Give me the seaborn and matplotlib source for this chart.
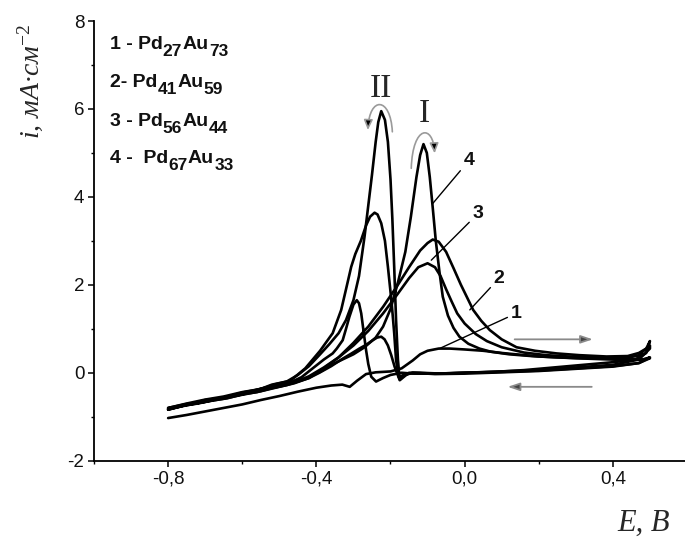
import numpy as np
import pandas as pd
import matplotlib
matplotlib.use("Agg")
import matplotlib.pyplot as plt
from matplotlib.patches import FancyArrowPatch
from matplotlib.path import Path
import seaborn as sns

# ---- cyclic voltammograms of Pd-Au alloys: potential E (V), current density i (mA/cm2) ----
# curve 1 : Pd27Au73
E1_fwd = [-0.80, -0.75, -0.70, -0.65, -0.60, -0.55, -0.50, -0.45, -0.40, -0.36, -0.33, -0.31,
          -0.29, -0.266, -0.24, -0.20, -0.17, -0.14, -0.12, -0.10, -0.07, -0.04, 0.0, 0.05,
          0.10, 0.20, 0.30, 0.43, 0.48, 0.50]
i1_fwd = [-1.03, -0.96, -0.88, -0.80, -0.72, -0.62, -0.53, -0.43, -0.34, -0.29, -0.27, -0.32,
          -0.18, -0.03, 0.01, 0.03, 0.10, 0.28, 0.42, 0.50, 0.55, 0.55, 0.53, 0.50,
          0.45, 0.37, 0.33, 0.29, 0.30, 0.33]
E1_rev = [0.50, 0.47, 0.40, 0.30, 0.20, 0.10, 0.0, -0.08, -0.14, -0.16, -0.176, -0.189,
          -0.198, -0.207, -0.216, -0.225, -0.236, -0.248, -0.265, -0.284, -0.305, -0.329,
          -0.36, -0.392, -0.42, -0.45, -0.50, -0.55, -0.60, -0.65, -0.70, -0.75, -0.80]
i1_rev = [0.33, 0.22, 0.14, 0.09, 0.04, 0.01, -0.02, -0.03, 0.0, -0.05, -0.15, 0.14,
          0.40, 0.62, 0.76, 0.82, 0.80, 0.74, 0.64, 0.55, 0.44, 0.32,
          0.15, 0.0, -0.12, -0.20, -0.27, -0.37, -0.44, -0.54, -0.61, -0.70, -0.80]

# curve 2 : Pd41Au59
E2_fwd = [-0.80, -0.75, -0.70, -0.65, -0.60, -0.55, -0.50, -0.46, -0.42, -0.38, -0.34, -0.30,
          -0.26, -0.22, -0.18, -0.15, -0.12, -0.10, -0.086, -0.07, -0.05, -0.03, -0.01,
          0.023, 0.045, 0.068, 0.10, 0.14, 0.19, 0.248, 0.31, 0.383, 0.44, 0.47, 0.49, 0.50]
i2_fwd = [-0.83, -0.74, -0.66, -0.59, -0.50, -0.42, -0.32, -0.24, -0.12, 0.10, 0.35, 0.68,
          1.05, 1.50, 2.00, 2.40, 2.78, 2.95, 3.03, 2.98, 2.75, 2.38, 2.00,
          1.43, 1.18, 0.97, 0.76, 0.58, 0.50, 0.44, 0.40, 0.37, 0.38, 0.45, 0.55, 0.62]
E2_rev = [0.50, 0.47, 0.40, 0.30, 0.20, 0.10, 0.0, -0.08, -0.14, -0.17, -0.20, -0.22, -0.239,
          -0.252, -0.26, -0.266, -0.272, -0.279, -0.285, -0.291, -0.30, -0.311, -0.32, -0.329,
          -0.345, -0.356, -0.38, -0.41, -0.44, -0.47, -0.51, -0.55, -0.60, -0.65, -0.70,
          -0.75, -0.80]
i2_rev = [0.55, 0.30, 0.18, 0.12, 0.06, 0.03, 0.0, -0.02, -0.02, 0.0, -0.05, -0.12, -0.20,
          -0.09, 0.20, 0.52, 0.90, 1.35, 1.58, 1.65, 1.55, 1.27, 1.00, 0.74,
          0.55, 0.44, 0.30, 0.10, -0.10, -0.22, -0.30, -0.36, -0.49, -0.56, -0.66,
          -0.73, -0.84]

# curve 3 : Pd56Au44
E3_fwd = [-0.80, -0.75, -0.70, -0.65, -0.60, -0.55, -0.50, -0.46, -0.42, -0.38, -0.34, -0.30,
          -0.26, -0.22, -0.18, -0.15, -0.125, -0.10, -0.08, -0.065, -0.05, -0.035, -0.02,
          0.0, 0.03, 0.06, 0.10, 0.16, 0.22, 0.30, 0.38, 0.45, 0.48, 0.50]
i3_fwd = [-0.80, -0.71, -0.66, -0.56, -0.49, -0.39, -0.31, -0.22, -0.08, 0.12, 0.35, 0.62,
          0.95, 1.35, 1.80, 2.15, 2.40, 2.49, 2.40, 2.20, 1.90, 1.62, 1.35,
          1.12, 0.88, 0.72, 0.58, 0.46, 0.40, 0.36, 0.34, 0.32, 0.30, 0.35]
E3_rev = [0.50, 0.47, 0.40, 0.30, 0.20, 0.10, 0.0, -0.08, -0.14, -0.165, -0.178, -0.185,
          -0.19, -0.197, -0.207, -0.215, -0.225, -0.235, -0.243, -0.255, -0.266, -0.28,
          -0.295, -0.306, -0.32, -0.333, -0.356, -0.39, -0.43, -0.47, -0.51, -0.55, -0.60,
          -0.65, -0.70, -0.75, -0.80]
i3_rev = [0.35, 0.22, 0.15, 0.10, 0.05, 0.02, 0.0, -0.02, 0.0, -0.05, -0.10, 0.29,
          0.90, 1.60, 2.41, 3.00, 3.40, 3.60, 3.64, 3.55, 3.35, 3.00,
          2.70, 2.41, 1.90, 1.43, 0.90, 0.50, 0.10, -0.18, -0.26, -0.37, -0.45,
          -0.57, -0.62, -0.73, -0.81]

# curve 4 : Pd67Au33
E4_fwd = [-0.80, -0.76, -0.72, -0.68, -0.64, -0.60, -0.56, -0.52, -0.48, -0.45, -0.42, -0.39,
          -0.36, -0.33, -0.30, -0.27, -0.24, -0.22, -0.20, -0.18, -0.16, -0.145, -0.13,
          -0.12, -0.111, -0.102, -0.094, -0.086, -0.078, -0.068, -0.059, -0.045, -0.03,
          -0.014, 0.01, 0.04, 0.07, 0.12, 0.18, 0.25, 0.32, 0.39, 0.44, 0.47, 0.49, 0.50]
i4_fwd = [-0.84, -0.75, -0.70, -0.63, -0.58, -0.49, -0.44, -0.35, -0.28, -0.20, -0.10, 0.02,
          0.18, 0.30, 0.42, 0.58, 0.80, 1.05, 1.45, 2.05, 2.75, 3.55, 4.45,
          4.95, 5.20, 5.00, 4.45, 3.75, 3.02, 2.30, 1.73, 1.30, 1.02,
          0.82, 0.66, 0.55, 0.48, 0.42, 0.38, 0.35, 0.33, 0.33, 0.34, 0.40, 0.55, 0.72]
E4_rev = [0.50, 0.49, 0.46, 0.40, 0.32, 0.24, 0.16, 0.08, 0.0, -0.06, -0.12, -0.15, -0.165,
          -0.175, -0.180, -0.185, -0.190, -0.195, -0.200, -0.207, -0.215, -0.225, -0.233,
          -0.240, -0.250, -0.260, -0.270, -0.285, -0.30, -0.32, -0.34, -0.365, -0.39, -0.42,
          -0.45, -0.48, -0.52, -0.56, -0.60, -0.64, -0.68, -0.72, -0.76, -0.80]
i4_rev = [0.72, 0.45, 0.30, 0.24, 0.18, 0.12, 0.06, 0.02, 0.00, -0.02, 0.0, 0.0, -0.10,
          -0.17, 0.30, 1.20, 2.40, 3.50, 4.40, 5.25, 5.75, 5.95, 5.70,
          5.25, 4.50, 3.80, 3.10, 2.20, 1.65, 1.20, 0.90, 0.65, 0.42, 0.15,
          -0.05, -0.20, -0.27, -0.40, -0.47, -0.56, -0.61, -0.69, -0.74, -0.83]

curve_names = ["1", "2", "3", "4"]
key_prefix = ["1 - ", "2- ", "3 - ", "4 -  "]
pd_index = ["27", "41", "56", "67"]
au_index = ["73", "59", "44", "33"]
x_ticks = [-0.8, -0.4, 0.0, 0.4]
x_tick_labels = ["-0,8", "-0,4", "0,0", "0,4"]
y_ticks = [-2, 0, 2, 4, 6, 8]
y_tick_labels = ["-2", "0", "2", "4", "6", "8"]

# ---- long table: each curve is one closed loop (forward then reverse sweep) ----
sweeps = [(E1_fwd + E1_rev, i1_fwd + i1_rev),
          (E2_fwd + E2_rev, i2_fwd + i2_rev),
          (E3_fwd + E3_rev, i3_fwd + i3_rev),
          (E4_fwd + E4_rev, i4_fwd + i4_rev)]
frames = []
for name, (E, cur) in zip(curve_names, sweeps):
    frames.append(pd.DataFrame({"E": E, "i": cur, "curve": name, "step": np.arange(len(E))}))
cv = pd.concat(frames, ignore_index=True)

sns.set_style("ticks")
plt.rcParams["font.family"] = ["Liberation Sans", "DejaVu Sans"]
plt.rcParams["mathtext.fontset"] = "custom"
plt.rcParams["mathtext.rm"] = "Liberation Serif"
plt.rcParams["mathtext.it"] = "Liberation Serif:italic"

fig = plt.figure(figsize=(6.85, 5.39), dpi=100)
ax = fig.add_axes([94 / 685, 1 - 460.7 / 539, (687 - 94) / 685, (460.7 - 21) / 539])

sns.lineplot(data=cv, x="E", y="i", units="curve", estimator=None, sort=False,
             color="black", lw=1.9, legend=False, ax=ax)

ax.set_xlim(-1.0, 0.6)
ax.set_ylim(-2, 8)
ax.set_xticks(x_ticks)
ax.set_xticklabels(x_tick_labels)
ax.set_yticks(y_ticks)
ax.set_yticklabels(y_tick_labels)
ax.set_xticks([-1.0, -0.6, -0.2, 0.2, 0.6], minor=True)
ax.set_yticks([-1, 1, 3, 5, 7], minor=True)
ax.tick_params(which="major", direction="out", length=4, width=1.1, labelsize=13.5,
               pad=3, color="black", labelcolor="#111")
ax.tick_params(which="minor", direction="out", length=2.4, width=1.0, color="black")
ax.set_xlabel("")
ax.set_ylabel("")
sns.despine(ax=ax)
for side in ("left", "bottom"):
    ax.spines[side].set_linewidth(1.3)
    ax.spines[side].set_color("black")

# composition key: main text and lowered indices chained one after another
main_kw = dict(fontsize=14, fontweight="bold", color="#111", va="baseline", ha="left")
sub_kw = dict(fontsize=12.5, fontweight="bold", color="#111", va="baseline", ha="left")
for pre, a, b, y in zip(key_prefix, pd_index, au_index, [7.36, 6.50, 5.62, 4.76]):
    t0 = ax.text(-0.958, y, pre + "Pd", **main_kw)
    t1 = ax.annotate(a, xy=(1, y), xycoords=(t0, "data"), xytext=(0.3, -5),
                     textcoords="offset points", **sub_kw)
    t2 = ax.annotate("Au", xy=(1, y), xycoords=(t1, "data"), xytext=(0.3, 0),
                     textcoords="offset points", **main_kw)
    ax.annotate(b, xy=(1, y), xycoords=(t2, "data"), xytext=(0.3, -5),
                textcoords="offset points", **sub_kw)

# curve labels with leader lines
leaders = [("4", (-0.086, 3.85), (0.012, 4.83)),
           ("3", (-0.090, 2.56), (0.036, 3.62)),
           ("2", (0.014, 1.43), (0.093, 2.15)),
           ("1", (-0.068, 0.55), (0.139, 1.35))]
for lab, xy, xytext in leaders:
    ax.annotate(lab, xy=xy, xytext=xytext, fontsize=14, fontweight="bold",
                ha="center", va="center", color="#111",
                arrowprops=dict(arrowstyle="-", lw=1.0, color="black",
                                shrinkA=0, shrinkB=0))

# peak names
ax.text(-0.226, 6.47, "II", fontsize=24, family="Liberation Serif", ha="center",
        va="center")
ax.text(-0.108, 5.90, "I", fontsize=24, family="Liberation Serif", ha="center",
        va="center")

# curved sweep-direction arrows over the peaks
arc_II = Path([(-0.195, 5.48), (-0.200, 6.29), (-0.257, 6.29), (-0.261, 5.52)],
              [Path.MOVETO, Path.CURVE4, Path.CURVE4, Path.CURVE4])
arc_I = Path([(-0.144, 4.65), (-0.140, 5.65), (-0.085, 5.65), (-0.081, 4.99)],
             [Path.MOVETO, Path.CURVE4, Path.CURVE4, Path.CURVE4])
for p in (arc_II, arc_I):
    ax.add_patch(FancyArrowPatch(path=p, arrowstyle="-|>,head_length=0.5,head_width=0.22",
                                 mutation_scale=12, edgecolor="#9a9a9a", facecolor="black",
                                 lw=1.2, transform=ax.transData))

# straight sweep-direction arrows
ax.annotate("", xy=(0.346, 0.76), xytext=(0.135, 0.76),
            arrowprops=dict(arrowstyle="-|>,head_length=0.6,head_width=0.2",
                            mutation_scale=12, edgecolor="#8a8a8a", facecolor="#444",
                            lw=1.3, shrinkA=0, shrinkB=0))
ax.annotate("", xy=(0.116, -0.32), xytext=(0.343, -0.32),
            arrowprops=dict(arrowstyle="-|>,head_length=0.6,head_width=0.2",
                            mutation_scale=12, edgecolor="#8a8a8a", facecolor="#444",
                            lw=1.3, shrinkA=0, shrinkB=0))

# axis titles
fig.text(30 / 685, 1 - 81.5 / 539, r"i, мА·см$^{-2}$", rotation=90, fontsize=20,
         family="Liberation Serif", style="italic", ha="center", va="center")
fig.text(617 / 685, 1 / 539, "E, В", fontsize=22, family="Liberation Serif",
         style="italic", ha="left", va="bottom")

fig.savefig("out.png", dpi=100)
